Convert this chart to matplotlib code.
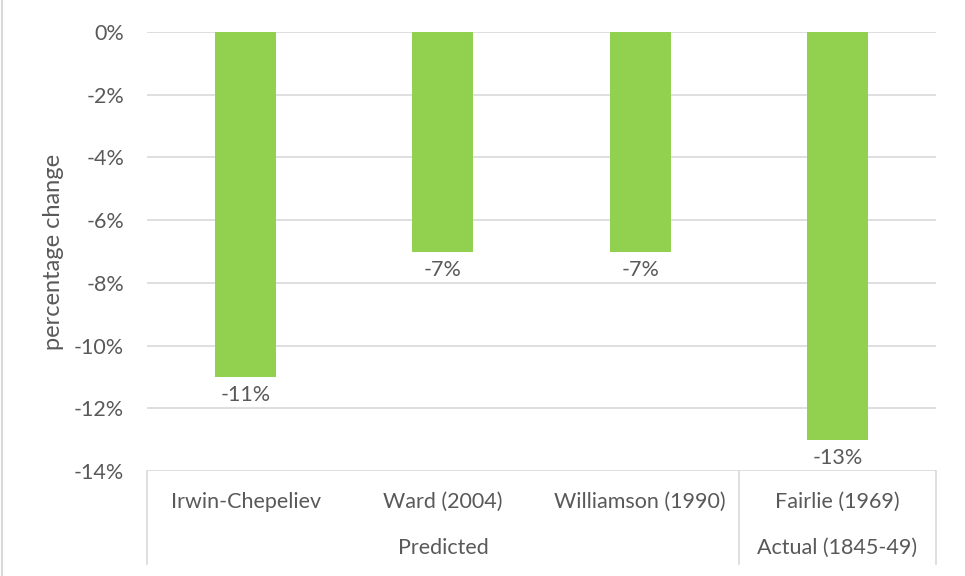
import matplotlib.pyplot as plt
from matplotlib.ticker import PercentFormatter, MultipleLocator

# Predicted vs actual population change
studies = ['Irwin-Chepeliev', 'Ward (2004)', 'Williamson (1990)', 'Fairlie (1969)']
changes = [-0.11, -0.07, -0.07, -0.13]
groups = ['Predicted', 'Actual (1845-49)']
group_spans = [(0, 2), (3, 3)]

plt.rcParams['font.family'] = ['Lato', 'DejaVu Sans']
plt.rcParams['axes.unicode_minus'] = False
txt = '#595959'
grid = '#D9D9D9'
fs = 15.5

fig = plt.figure(figsize=(9.65, 5.76), dpi=100)
ax = fig.add_axes([147 / 965, 1 - 471 / 576, (936 - 147) / 965, (471 - 32) / 576])

x = range(len(studies))
ax.bar(x, changes, width=0.31, color='#92D050', zorder=3)

ax.set_xlim(-0.5, len(studies) - 0.5)
ax.set_ylim(-0.14, 0)
ax.yaxis.set_major_locator(MultipleLocator(0.02))
ax.yaxis.set_major_formatter(PercentFormatter(1.0, decimals=0))
ax.grid(axis='y', color=grid, linewidth=1.2, zorder=0)
ax.tick_params(axis='y', length=0, pad=16.5, labelsize=fs, labelcolor=txt)
ax.set_xticks([])
for s in ax.spines.values():
    s.set_visible(False)

ax.set_ylabel('percentage change', fontsize=17, color=txt, labelpad=7)

# value labels under each bar
for i, v in enumerate(changes):
    ax.annotate(f'{v * 100:.0f}%', (i, v), xytext=(0, -6), textcoords='offset points',
                ha='center', va='top', fontsize=fs, color=txt)

# two-level category axis
tr = ax.get_xaxis_transform()
row1 = (471 - 502) / 439
row2 = (471 - 548) / 439
bottom = (471 - 564) / 439
for i, name in enumerate(studies):
    ax.text(i, row1, name, transform=tr, ha='center', va='center', fontsize=fs, color=txt)
for name, (a, b) in zip(groups, group_spans):
    ax.text((a + b) / 2, row2, name, transform=tr, ha='center', va='center', fontsize=fs, color=txt)
for xd in [-0.5, 2.5, 3.5]:
    ax.plot([xd, xd], [0, bottom], transform=tr, color=grid, linewidth=1.2, clip_on=False)

# chart area border on the left edge
fig.add_artist(plt.Line2D([2 / 965, 2 / 965], [0, 1], color=grid, linewidth=1.5))

fig.savefig('out.png', dpi=100)
